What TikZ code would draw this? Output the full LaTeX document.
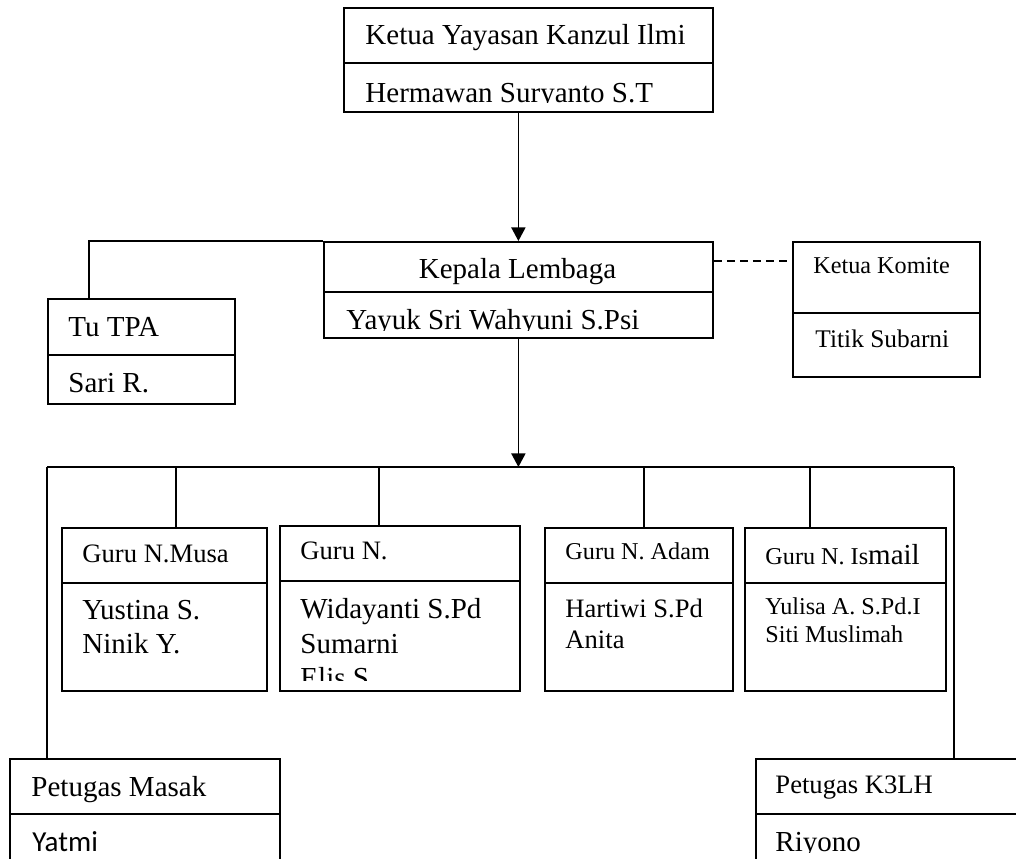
\documentclass[tikz,border=0pt]{standalone}
\usepackage{fontspec}
\setmainfont{Liberation Serif}
\newfontfamily\calibrifont{Carlito}
\usepackage{tikz}
\usetikzlibrary{arrows.meta}
\newcommand{\pxu}{0.4137pt}
\tikzset{
  box/.style={draw, line width=0.75pt, anchor=north west, inner sep=0pt},
  divider/.style={line width=0.75pt},
  link/.style={line width=0.7pt},
  arrowlink/.style={link, -{Triangle[length=5.6pt, width=5.8pt]}},
  dashlink/.style={link, dash pattern=on 3.3pt off 2.1pt},
  lbl/.style={anchor=base west, inner sep=0pt},
  ften/.style={font=\fontsize{10}{12}\selectfont},
  feleven/.style={font=\fontsize{11}{13}\selectfont},
  ftwelve/.style={font=\fontsize{12}{14}\selectfont},
}

\begin{document}
\begin{tikzpicture}[x=\pxu, y=-\pxu, ftwelve]
  \clip (0,0) rectangle (1016,858);

  % boxes
  \node[box, minimum width=369*\pxu, minimum height=104*\pxu] (ketua) at (343,7) {};
  \node[box, minimum width=389*\pxu, minimum height=96*\pxu] (kepala) at (323,241) {};
  \node[box, minimum width=187*\pxu, minimum height=105*\pxu] (tutpa) at (47,298) {};
  \node[box, minimum width=187*\pxu, minimum height=135*\pxu] (komite) at (792,241) {};
  \node[box, minimum width=205*\pxu, minimum height=163*\pxu] (musa) at (61,527) {};
  \node[box, minimum width=240*\pxu, minimum height=165*\pxu] (gurun) at (279,525) {};
  \node[box, minimum width=188*\pxu, minimum height=163*\pxu] (adam) at (544,527) {};
  \node[box, minimum width=201*\pxu, minimum height=163*\pxu] (ismail) at (744,527) {};
  \node[box, minimum width=270*\pxu, minimum height=122*\pxu] (masak) at (9,758) {};
  \node[box, minimum width=285*\pxu, minimum height=122*\pxu] (k3lh) at (755,758) {};

  % dividers
  \draw[divider] (343,63) -- (712,63);
  \draw[divider] (323,292) -- (712,292);
  \draw[divider] (47,355) -- (234,355);
  \draw[divider] (792,313) -- (979,313);
  \draw[divider] (61,583) -- (266,583);
  \draw[divider] (279,581) -- (519,581);
  \draw[divider] (544,583) -- (732,583);
  \draw[divider] (744,583) -- (945,583);
  \draw[divider] (9,814) -- (279,814);
  \draw[divider] (755,814) -- (1040,814);

  % texts
  \node[lbl] (ketuaT) at (365,44) {Ketua Yayasan Kanzul Ilmi};
  \begin{scope}
    \clip (343,63) rectangle (712,102.5);
    \node[lbl] (ketuaN) at (365,102) {Hermawan Suryanto S.T};
  \end{scope}
  \node[anchor=base, inner sep=0pt] (kepalaT) at (517.5,278) {Kepala Lembaga};
  \begin{scope}
    \clip (323,292) rectangle (712,330);
    \node[lbl] (kepalaN) at (346,329) {Yayuk Sri Wahyuni S.Psi};
  \end{scope}
  \node[lbl] (tutpaT) at (68,336) {Tu TPA};
  \node[lbl] (tutpaN) at (68,392) {Sari R.};
  \node[lbl, ften] (komiteT) at (813,273) {Ketua Komite};
  \node[lbl, font=\fontsize{10.5}{12.5}\selectfont] (komiteN) at (815,347) {Titik Subarni};

  \node[lbl, feleven] (musaT) at (82,562) {Guru N.Musa};
  \node[lbl] (musaA) at (82,619) {Yustina S.};
  \node[lbl] (musaB) at (82,653) {Ninik Y.};
  \node[lbl, feleven] (gurunT) at (300,559) {Guru N.};
  \node[lbl] (gurunA) at (300,618) {Widayanti S.Pd};
  \node[lbl] (gurunB) at (300,653) {Sumarni};
  \begin{scope}
    \clip (279,581) rectangle (519,680);
    \node[lbl] (gurunC) at (300,687) {Elis S};
  \end{scope}
  \node[lbl, ften] (adamT) at (565,559) {Guru N. Adam};
  \node[lbl, feleven] (adamA) at (565,617) {Hartiwi S.Pd};
  \node[lbl, feleven] (adamB) at (565,648) {Anita};
  \node[lbl, ften] (ismailT) at (765,564) {Guru N. Is{\fontsize{12}{14}\selectfont mail}};
  \node[lbl, ften] (ismailA) at (765,614) {Yulisa A. S.Pd.I};
  \node[lbl, ften] (ismailB) at (765,642) {Siti Muslimah};

  \node[lbl] (masakT) at (31,796) {Petugas Masak};
  \node[lbl, feleven] (k3lhT) at (775,793) {Petugas K3LH};
  \begin{scope}
    \clip (0,814) rectangle (1016,852);
    \node[lbl, font=\calibrifont\fontsize{12}{14}\selectfont] (masakN) at (32,851) {Yatmi};
    \node[lbl] (k3lhN) at (775,851) {Riyono};
  \end{scope}

  % connectors
  \coordinate (tuTop) at (89,298);
  \coordinate (komiteIn) at (792,261);
  \coordinate (busL) at (47,467);
  \coordinate (busR) at (954,467);
  \draw[arrowlink] (ketua.south -| kepala.north) -- (kepala.north);
  \draw[link] (kepala.north west) -| (tuTop);
  \draw[dashlink] (kepala.east |- komiteIn) -- (komiteIn);
  \draw[arrowlink] (kepala.south) -- (kepala.south |- busL);
  \draw[link] (busL) -- (busR);
  \draw[link] (busL) -- (busL |- masak.north);
  \draw[link] (busR) -- (busR |- k3lh.north);
  \foreach \b/\x in {musa/176, gurun/379, adam/644, ismail/810}{
    \coordinate (drop\b) at (\x,467);
    \draw[link] (drop\b) -- (drop\b |- \b.north);
  }
\end{tikzpicture}
\end{document}
